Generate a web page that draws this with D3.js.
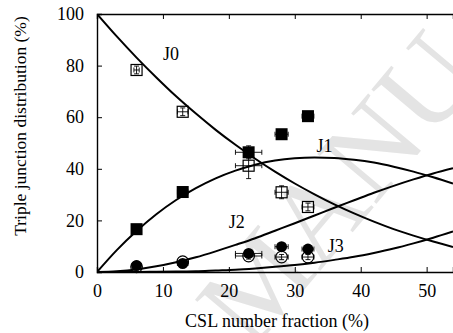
<!DOCTYPE html>
<html><head><meta charset="utf-8">
<script src="https://cdn.jsdelivr.net/npm/d3@7"></script>
<style>body{margin:0;background:#fff}svg{display:block}</style>
</head><body><svg id="c" width="453" height="333"></svg>
<script>
// Model curves (values in %, read at CSL fraction steps)
const curveX = [0,3,6,9,12,15,18,21,24,27,30,33,36,39,42,45,48,51,54];
const curveJ0 = [100,91.3,83.1,75.4,68.1,61.4,55.1,49.3,43.9,38.9,34.3,30.1,26.2,22.7,19.5,16.6,14.1,11.8,9.7];
const curveJ1 = [0,8.5,15.9,22.4,27.9,32.5,36.3,39.3,41.6,43.2,44.1,44.4,44.2,43.5,42.4,40.8,38.9,36.7,34.3];
const curveJ2 = [0,0.3,1.0,2.2,3.8,5.7,8.0,10.5,13.1,16.0,18.9,21.9,24.9,27.8,30.7,33.4,35.9,38.2,40.2];
const curveJ3 = [0,0.0,0.0,0.1,0.2,0.3,0.6,0.9,1.4,2.0,2.7,3.6,4.7,5.9,7.4,9.1,11.1,13.3,15.7];

// Measured points
const expX   = [6.0, 13.0, 23.0, 28.0, 32.0];
const expXerr= [0.4, 0.8, 2.0, 1.0, 0.9];
const expJ0  = [78.3, 62.1, 41.2, 30.9, 25.2];
const expJ0err=[1.5, 1.5, 5.0, 2.5, 1.5];
const expJ1  = [16.6, 31.0, 46.4, 53.4, 60.4];
const expJ1err=[1.0, 1.0, 2.5, 1.0, 1.0];
const expJ2  = [2.5, 3.3, 7.2, 9.8, 8.9];
const expJ2err=[0.8, 0.8, 1.2, 1.0, 1.0];
const expJ3  = [2.0, 4.0, 6.2, 5.8, 5.8];
const expJ3err=[0.8, 0.8, 1.2, 1.0, 1.0];

const xTicks = [0,10,20,30,40,50];
const yTicks = [0,20,40,60,80,100];
const curveLabels = [{t:"J0",x:10.0,y:82},{t:"J1",x:33.3,y:46.5},{t:"J2",x:20.0,y:17.0},{t:"J3",x:35.0,y:7.8}];

const FONT = "Liberation Serif";
const svg = d3.select("#c");
const x = d3.scaleLinear().domain([0,54]).range([97,453]);
const y = d3.scaleLinear().domain([0,100]).range([272,14]);

// watermark
svg.append("text").text("MANU")
  .attr("transform","translate(252,352) rotate(-50)")
  .attr("font-family",FONT)
  .attr("font-size",118).attr("fill","#e4e4e4");

const g = svg.append("g");
// axes frame
const xAxis = d3.axisBottom(x).tickValues(xTicks).tickSize(-5).tickPadding(12).tickFormat(d3.format("d"));
const gx = g.append("g").attr("transform","translate(0,272)").call(xAxis);
const gxt = g.append("g").attr("transform","translate(0,14)").call(d3.axisTop(x).tickValues(xTicks).tickSize(-5).tickFormat(""));
const yAxis = d3.axisLeft(y).tickValues(yTicks).tickSize(-5).tickPadding(13).tickFormat(d3.format("d"));
const gy = g.append("g").attr("transform","translate(97,0)").call(yAxis);
[gx,gxt,gy].forEach(a=>{
  a.attr("font-family",FONT).attr("font-size",18);
  a.select(".domain").attr("stroke","#000").attr("stroke-width",1.4);
  a.selectAll(".tick line").attr("stroke","#000").attr("stroke-width",1);
  a.selectAll(".tick text").attr("fill","#000");
});
gx.selectAll(".tick line").filter(d=>d===0).remove();
gy.selectAll(".tick line").filter(d=>d===0||d===100).remove();
gxt.selectAll(".tick line").filter(d=>d===0).remove();

// titles
svg.append("text").text("CSL number fraction (%)").attr("x",277).attr("y",327)
  .attr("font-family",FONT).attr("text-anchor","middle").attr("font-size",18);
svg.append("text").text("Triple junction distribution (%)")
  .attr("transform","translate(26,126) rotate(-90)")
  .attr("font-family",FONT).attr("text-anchor","middle").attr("font-size",17.5);

// curves
svg.append("clipPath").attr("id","pc").append("rect").attr("x",97).attr("y",14).attr("width",360).attr("height",258);
const line = d3.line().x(d=>x(d[0])).y(d=>y(d[1])).curve(d3.curveMonotoneX);
[curveJ0,curveJ1,curveJ2,curveJ3].forEach(s=>{
  g.append("path").attr("d",line(curveX.map((v,i)=>[v,s[i]])))
    .attr("fill","none").attr("stroke","#000").attr("stroke-width",2).attr("clip-path","url(#pc)");
});
curveLabels.forEach(l=>svg.append("text").text(l.t).attr("x",x(l.x)).attr("y",y(l.y))
  .attr("font-family",FONT).attr("font-size",18));

// error bars
function errBars(vals, errs){
  const eg = g.append("g").attr("stroke","#000").attr("stroke-width",0.9);
  expX.forEach((xv,i)=>{
    const cx=x(xv), cy=y(vals[i]);
    const x0=x(xv-expXerr[i]), x1=x(xv+expXerr[i]);
    const y0=y(vals[i]-errs[i]), y1=y(vals[i]+errs[i]);
    eg.append("line").attr("x1",x0).attr("x2",x1).attr("y1",cy).attr("y2",cy);
    eg.append("line").attr("x1",x0).attr("x2",x0).attr("y1",cy-2.5).attr("y2",cy+2.5);
    eg.append("line").attr("x1",x1).attr("x2",x1).attr("y1",cy-2.5).attr("y2",cy+2.5);
    eg.append("line").attr("x1",cx).attr("x2",cx).attr("y1",y0).attr("y2",y1);
    eg.append("line").attr("x1",cx-2.5).attr("x2",cx+2.5).attr("y1",y0).attr("y2",y0);
    eg.append("line").attr("x1",cx-2.5).attr("x2",cx+2.5).attr("y1",y1).attr("y2",y1);
  });
}
errBars(expJ3,expJ3err);
errBars(expJ2,expJ2err);
errBars(expJ0,expJ0err);
errBars(expJ1,expJ1err);

// markers
const sq=11;
g.append("g").selectAll("circle").data(expX).join("circle")
  .attr("cx",d=>x(d)).attr("cy",(d,i)=>y(expJ3[i])).attr("r",5.8)
  .attr("fill","none").attr("stroke","#000").attr("stroke-width",1.2);
g.append("g").selectAll("circle").data(expX).join("circle")
  .attr("cx",d=>x(d)).attr("cy",(d,i)=>y(expJ2[i])).attr("r",5.5).attr("fill","#000");
g.append("g").selectAll("rect").data(expX).join("rect")
  .attr("x",d=>x(d)-sq/2).attr("y",(d,i)=>y(expJ0[i])-sq/2).attr("width",sq).attr("height",sq)
  .attr("fill","none").attr("stroke","#000").attr("stroke-width",1.2);
g.append("g").selectAll("rect").data(expX).join("rect")
  .attr("x",d=>x(d)-6).attr("y",(d,i)=>y(expJ1[i])-6).attr("width",12).attr("height",12).attr("fill","#000");
</script></body></html>
